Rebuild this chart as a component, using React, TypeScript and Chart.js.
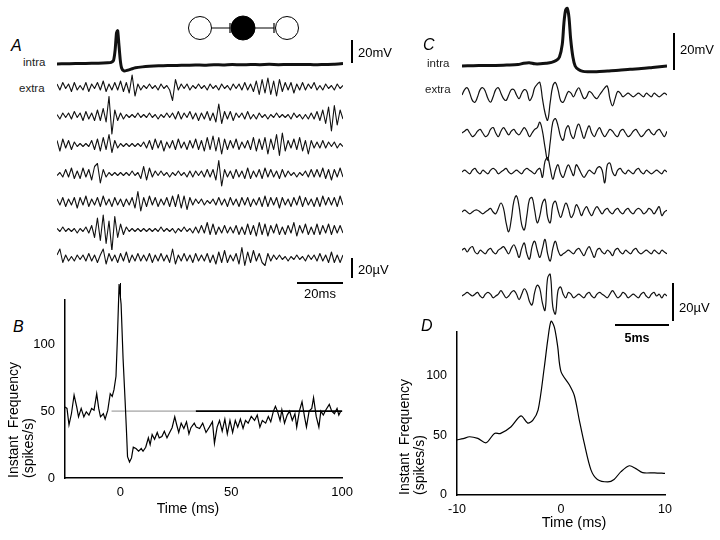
import React, { useEffect, useRef } from "react";
import { Chart, registerables } from "chart.js";
Chart.register(...registerables);

const FONT = '"Liberation Sans", Arial, Helvetica, sans-serif';

// ---------------- Panel A : intracellular (ms, mV) ----------------
const A_INTRA_T = [0, 4, 8, 12, 16, 20, 22, 23.5, 24.5, 25.2, 25.8, 26.3, 26.8, 27.4, 28, 29, 30.5, 32, 34, 37, 40, 44, 48, 52, 56, 60, 64, 68, 72, 76, 80, 84, 88, 92, 96, 100, 104, 108, 112, 116, 120, 124];
const A_INTRA_V = [0, 0.3, 0.5, 0.4, 0.6, 0.8, 1.0, 1.5, 3, 12, 27, 29, 18, 4, -3.5, -6, -5.5, -4.5, -3.3, -2.5, -2, -1.6, -1.4, -1.2, -1.1, -0.9, -1, -0.6, -0.8, -0.5, -0.7, -0.4, -0.6, -0.3, -0.6, -0.4, -0.5, -0.4, -0.7, -0.4, -0.2, 0.4];

// ---------------- Panel A : extracellular sweeps (µV) ----------------
const A_EXTRA_1 = [2,-2,3,-1,2,-3,3,-2,1,-2, 3,-3,2,-1,3,-2,4,-3,2,-2, 3,-2,4,-3,3,-4,8,-6,2,-2, 1,-1,2,-1,1,-2,2,-1,1,-2, -9,5,-2,2,-1,2,-2,1,-1,2, -1,1,-2,2,-1,1,-2,2,-1,1, -2,2,-1,2,-2,3,-2,2,-3,4, -5,5,-4,6,-5,4,-6,5,-3,3, -2,3,-4,2,-2,3,-2,2,-1,3, -2,1,-2,2,-1,1,-2,2,-1,1];
const A_EXTRA_2 = [1,-2,2,-1,2,-2,3,-1,2,-3, 3,-2,2,-3,4,-3,5,-4,13,-12, 4,-3,2,-2,1,-1,1,-1,2,-1, 1,-1,2,-1,1,-2,1,-1,2,-1, 2,-2,3,-2,2,-1,3,-2,2,-3, 2,-2,3,-3,2,-4,8,-5,3,-2, 3,-3,2,-1,2,-2,3,-2,1,-2, 2,-1,1,-2,1,-1,2,-1,1,-1, 1,-2,2,-1,1,-2,1,-2,2,-2, 3,-3,4,-5,6,-10,7,-6,4,-2];
const A_EXTRA_3 = [3,-4,4,-2,3,-3,2,-1,1,-1, 1,-1,3,-3,4,-4,5,-3,7,-5, 3,-2,1,-1,1,-1,1,-1,1,-1, 2,-2,3,-3,4,-2,3,-4,2,-2, 3,-3,4,-2,2,-3,3,-2,4,-3, 3,-4,5,-3,6,-4,5,-6,4,-3, 3,-2,4,-3,2,-2,3,-3,5,-4, 4,-3,5,-6,4,-3,7,-7,8,-4, 3,-2,4,-3,5,-4,3,-6,3,-2, 2,-2,3,-2,2,-1,2,-2,1,-1];
const A_EXTRA_4 = [-1,1,-2,3,-2,4,-3,2,-3,4, -2,3,-4,5,7,-6,3,-2,1,-1, 1,-1,1,-1,1,-1,2,-1,1,-3, 5,-4,4,-2,2,-1,2,-1,1,-2, 1,-1,2,-1,1,-2,2,-2,2,-1, 2,-2,3,-2,3,-4,9,-8,3,-2, 2,-3,3,-2,2,-3,4,-3,2,-2, 3,-3,4,-2,3,-2,2,-3,3,-2, 2,-1,1,-2,1,-1,2,-2,3,-2, 3,-2,4,-3,3,-4,3,-2,4,-2];
const A_EXTRA_5 = [2,-2,3,-3,2,-2,3,-4,3,-2, 4,-3,2,-2,3,-3,4,-2,2,-3, 3,-2,2,-3,2,-2,3,-4,7,-6, 3,-3,4,-2,3,-3,2,-2,3,-3, 4,-3,5,-4,4,-5,3,-2,2,-1, 2,-2,1,-1,2,-2,3,-2,2,-3, 3,-2,2,-3,3,-2,3,-3,2,-2, 3,-3,4,-3,3,-2,3,-4,3,-2, 2,-3,3,-2,4,-3,3,-2,2,-3, 3,-3,4,-2,3,-2,3,-3,4,-2];
const A_EXTRA_6 = [1,-1,2,-1,1,-1,1,-2,1,-1, 2,-2,3,-5,8,-7,10,-9,6,-14, 9,-5,4,-3,2,-1,1,-1,1,-1, 1,-1,1,-1,1,-1,2,-1,1,-1, 1,-2,1,-1,2,-1,1,-2,2,-2, 3,-2,5,-3,4,-3,2,-2,3,-2, 2,-2,3,-3,2,-3,4,-3,3,-4, 5,-3,4,-4,3,-2,4,-3,2,-3, 3,-2,5,-4,3,-2,4,-3,2,-3, 4,-3,3,-2,4,-3,3,-2,3,-2];
const A_EXTRA_7 = [2,6,-3,2,-2,1,-2,2,-1,2, -2,3,-2,2,-3,2,6,-4,3,-2, 2,-3,3,-2,4,-3,2,-2,3,-2, 2,-2,3,-3,2,-2,3,-2,2,-3, 6,-4,2,-2,3,-2,2,-3,3,-2, 2,-2,3,-3,2,-4,4,-3,5,-3, 2,-2,3,-4,7,-5,4,-3,5,-2, 3,-3,-5,3,-2,2,-1,2,-1,1, -2,1,-1,2,-1,1,-2,2,-1,2, -2,3,-2,2,-3,4,-3,2,-3,2];

// ---------------- Panel B : instant frequency ----------------
const B_TIME = [-25,-24.1,-23.2,-22.1,-20.9,-19.7,-18.9,-17.7,-16.5,-15.4,-14.2,-13,-11.9,-10.7,-9.8,-9,-7.7,-6.9,-5.7,-4.6,-3.7,-2.9,-2,-1.4,-0.6,0.3,1.2,2.1,2.7,3.2,4.1,5,5.8,7,8.2,9.4,10.2,11.4,12.6,13.4,14.3,15.4,16.6,17.5,18.7,19.8,21,22.2,23.3,24.5,25.4,26.3,27.4,28.6,29.8,30.9,31.8,33.3,34.2,35.7,37.1,38.6,40.1,41.5,42.4,43.6,44.7,45.9,47.1,48.2,49.4,50.6,51.8,52.9,54.1,55.3,56.4,57.6,59,60.5,61.7,62.9,64,65.5,66.7,67.8,69,69.9,70.8,72,72.8,74,75.2,76.3,77.5,78.7,79.5,80.7,81.9,83,83.9,85.1,86.3,87.1,88.3,89.5,90.4,91.5,92.7,94.2,95.3,96.5,97.7,98.5,99.4];
const B_FREQ = [53,52,39.6,48,62,53,45.7,52,45.7,49.5,47,52,50.7,63,52,45.7,48,44,50.7,63,61,66,76,103,145,130,89,58,36,16,12,15,23,22,20,22,20,23,30,25,32.5,29,34,30,31,35,30,34,37.6,45.7,39.6,34,41,37,42,33,37.6,41,38,37,41,34,38,42,26,38,43,35,44,33,43,34,43,38,44,37,43,41,46,43,47,38,43,41,46,42,50,53.5,50,43,51,41,47,50,43,48,38,50,57,46,38,50,52,60,46,38,50,47,51,55,50,48,52,47,50];
const B_REF_TIME = [-4, 34, 100];
const B_REF_FREQ = [50, 50, 50];
const B_X_TICKS = [0, 50, 100];
const B_Y_TICKS = [0, 50, 100];

// ---------------- Panel C : intracellular (ms, mV) ----------------
const C_INTRA_T = [0, 1, 2, 3, 4, 5, 5.5, 6, 6.5, 7, 7.5, 8, 8.4, 8.7, 8.95, 9.1, 9.25, 9.4, 9.55, 9.7, 9.9, 10.1, 10.4, 10.8, 11.3, 12, 13, 14, 15, 16, 17, 18.3];
const C_INTRA_V = [0, 0.2, 0.3, 0.3, 0.5, 0.8, 1.5, 1.8, 1.2, 1.2, 1.5, 2, 3, 5, 12, 24, 31, 32, 27, 15, 5, 0, -2, -3, -3.2, -3.2, -2.8, -2.4, -1.8, -1.4, -0.8, 0];

// ---------------- Panel C : extracellular sweeps (µV) ----------------
const C_EXTRA_1 = [0,3,4,1,-3,-4,-1,3,4,2, -2,-4,-1,3,4,1,-2,-3,0,3, 3,0,-2,1,3,2,-3,-1,4,6, 7,-2,-10,-14,-4,5,7,3,-3,-4, -1,2,1,-1,2,4,1,-2,-1,2, 1,-1,-2,0,2,4,5,-2,-6,-2, 2,1,-1,0,1,0,-1,0,1,0, -1,1,0,-1,1,0,-1,0,1,0];
const C_EXTRA_2 = [0,1,2,0,-2,-1,1,2,0,-2, -1,2,3,0,-2,1,3,1,-1,1, 2,0,-1,1,3,1,-2,0,2,3, 6,1,-8,-15,-5,6,8,4,-2,-4, 2,4,-1,-3,2,5,1,-3,1,4, 0,-2,1,3,0,-2,0,2,1,-1, -2,1,2,0,-2,-1,1,2,0,-2, -1,1,2,0,-1,1,2,0,-2,1];
const C_EXTRA_3 = [0,1,0,-1,1,2,0,-1,1,0, -1,1,2,1,-1,0,1,2,0,-1, 0,1,0,-1,1,2,1,0,-1,1, 2,-3,6,8,2,-4,1,4,-1,-3, 1,4,1,-2,4,2,-1,-3,-1,1, 0,-1,2,3,1,-6,4,5,0,-2, 1,2,0,-1,1,0,-1,1,2,0, -1,1,0,-1,0,1,0,-1,1,0];
const C_EXTRA_4 = [0,1,0,-1,0,1,1,0,-1,0, 1,2,0,-1,2,5,2,-6,-11,-4, 6,9,3,-7,-10,-2,7,8,1,-6, -2,5,7,-3,-6,4,6,1,-3,1, 5,2,-3,-1,4,2,-2,1,3,0, -2,1,3,1,-1,1,2,0,-1,1, 2,0,-1,1,2,0,-1,1,2,1, -1,0,2,1,-1,1,3,-2,0,1];
const C_EXTRA_5 = [1,2,0,2,3,0,-1,1,0,-1, 1,2,0,-1,1,2,3,1,-1,2, 4,1,-3,2,5,-1,-4,3,6,1, -3,2,7,-1,-5,2,6,1,-2,-1, 0,1,0,-1,1,2,0,-2,1,3, 0,-3,1,2,0,-1,1,0,-2,1, 2,0,-1,1,0,-1,1,2,0,-1, 0,1,0,-1,1,0,-1,1,0,-1];
const C_EXTRA_6 = [0,1,2,1,0,1,2,0,-1,1, 2,1,-1,0,1,3,1,-1,0,2, 3,1,-2,1,4,2,-3,-5,2,6, 4,-4,-8,10,12,-6,-10,3,5,1, -1,2,1,-1,0,1,0,-1,1,2, 0,-1,1,2,1,0,-1,1,3,1, -1,0,2,1,-1,0,1,0,-1,1, 2,0,-1,1,2,0,1,-1,1,0];

// ---------------- Panel D : instant frequency ----------------
const D_TIME = [-10,-9.4,-8.8,-8.0,-7.2,-6.4,-5.8,-4.8,-3.85,-3.2,-2.7,-2.2,-1.6,-1.28,-0.96,-0.64,-0.32,0,0.8,1.28,1.76,2.24,2.88,3.5,4.5,5.1,5.77,6.57,7.2,7.85,9,10];
const D_FREQ = [46,47,48.6,47.2,43.6,51.4,51.4,57,66,60,62.5,71,107,129,145,140,124,103,92,83,62.5,43,21,13,11,13,19.5,24.4,22,18.6,18.5,18];
const D_X_TICKS = [-10, 0, 10];
const D_Y_TICKS = [0, 50, 100];

const Y_TITLE = ["Instant  Frequency", "(spikes/s)"];

// ---------------- layout (positions only) ----------------
const A_ROWS_Y = [87, 116, 145, 174, 202, 230, 258];
const C_ROWS_Y = [95, 133, 172, 212, 252, 296];
const A_EXTRAS = [A_EXTRA_1, A_EXTRA_2, A_EXTRA_3, A_EXTRA_4, A_EXTRA_5, A_EXTRA_6, A_EXTRA_7];
const C_EXTRAS = [C_EXTRA_1, C_EXTRA_2, C_EXTRA_3, C_EXTRA_4, C_EXTRA_5, C_EXTRA_6];

type TraceProps = {
  left: number; top: number; width: number; height: number;
  baseline: number; pxPerUnit: number;
  xs?: number[]; ys: number[];
  lineWidth: number; tension: number;
};

function Trace(p: TraceProps) {
  const ref = useRef<HTMLCanvasElement>(null);
  useEffect(() => {
    const yMax = p.baseline / p.pxPerUnit;
    const yMin = -(p.height - p.baseline) / p.pxPerUnit;
    const pts = p.ys.map((v, i) => ({ x: p.xs ? p.xs[i] : i, y: v }));
    const xMin = p.xs ? p.xs[0] : 0;
    const xMax = p.xs ? p.xs[p.xs.length - 1] : p.ys.length - 1;
    const chart = new Chart(ref.current as HTMLCanvasElement, {
      type: "line",
      data: {
        datasets: [{
          data: pts, borderColor: "#111", borderWidth: p.lineWidth, pointRadius: 0,
          tension: p.tension, clip: false as any, fill: false, borderJoinStyle: "round",
        }],
      },
      options: {
        animation: false, responsive: false, events: [],
        layout: { padding: 0 },
        plugins: { legend: { display: false }, tooltip: { enabled: false } },
        scales: {
          x: { type: "linear", display: false, min: xMin, max: xMax },
          y: { type: "linear", display: false, min: yMin, max: yMax },
        },
      },
    });
    return () => chart.destroy();
  }, []);
  return (
    <canvas ref={ref} width={p.width} height={p.height}
      style={{ position: "absolute", left: p.left, top: p.top, width: p.width, height: p.height }} />
  );
}

type FreqProps = {
  left: number; top: number; width: number; height: number;
  xs: number[]; ys: number[]; refXs?: number[]; refYs?: number[];
  xMin: number; xMax: number; yMax: number; xTicks: number[]; yTicks: number[];
  yAxisWidth: number; xAxisHeight: number; padTop: number; padRight: number;
  titlePad: number; fontSize: number; tension: number;
};

function FreqChart(p: FreqProps) {
  const ref = useRef<HTMLCanvasElement>(null);
  useEffect(() => {
    const datasets: any[] = [{
      data: p.xs.map((x, i) => ({ x, y: p.ys[i] })),
      borderColor: "#000", borderWidth: 1.2, pointRadius: 0, tension: p.tension,
      clip: false, fill: false,
    }];
    if (p.refXs && p.refYs) {
      datasets.push({
        data: p.refXs.map((x, i) => ({ x, y: (p.refYs as number[])[i] })),
        pointRadius: 0, borderWidth: 1.3, borderColor: "#000", clip: false,
        segment: {
          borderColor: (c: any) => (c.p0DataIndex === 0 ? "#8c8c8c" : "#000"),
          borderWidth: (c: any) => (c.p0DataIndex === 0 ? 1 : 1.6),
        },
      });
    }
    const tickFont = { family: FONT, size: p.fontSize };
    const chart = new Chart(ref.current as HTMLCanvasElement, {
      type: "line",
      data: { datasets },
      options: {
        animation: false, responsive: false, events: [],
        layout: { padding: { top: p.padTop, right: p.padRight, left: 0, bottom: 0 } },
        plugins: { legend: { display: false }, tooltip: { enabled: false } },
        scales: {
          x: {
            type: "linear", min: p.xMin, max: p.xMax,
            grid: { display: false, drawTicks: false },
            border: { display: true, color: "#000", width: 1.5 },
            ticks: { color: "#000", padding: 7, font: tickFont, autoSkip: false, maxRotation: 0 },
            afterBuildTicks: (s: any) => { s.ticks = p.xTicks.map((v) => ({ value: v })); },
            afterFit: (s: any) => { s.height = p.xAxisHeight; },
          },
          y: {
            type: "linear", min: 0, max: p.yMax,
            grid: { display: false, drawTicks: false },
            border: { display: true, color: "#000", width: 1.5 },
            ticks: { color: "#000", padding: 10, font: tickFont, autoSkip: false },
            afterBuildTicks: (s: any) => { s.ticks = p.yTicks.map((v) => ({ value: v })); },
            afterFit: (s: any) => { s.width = p.yAxisWidth; },
            title: {
              display: true, text: Y_TITLE, align: "start", color: "#000",
              font: { family: FONT, size: 14, lineHeight: 1.1 },
              padding: { top: p.titlePad, bottom: 0 },
            },
          },
        },
      },
    });
    return () => chart.destroy();
  }, []);
  return (
    <canvas ref={ref} width={p.width} height={p.height}
      style={{ position: "absolute", left: p.left, top: p.top, width: p.width, height: p.height }} />
  );
}

function Label(props: { x: number; y: number; text: string; size?: number; italic?: boolean; center?: boolean; bold?: boolean; color?: string }) {
  return (
    <div style={{
      position: "absolute", left: props.x, top: props.y,
      transform: props.center ? "translate(-50%, -50%)" : "translate(0, -50%)",
      fontFamily: FONT, fontSize: props.size ?? 13, lineHeight: 1,
      fontStyle: props.italic ? "italic" : "normal",
      fontWeight: props.bold ? 700 : 400, whiteSpace: "pre",
      color: props.color ?? "#000",
    }}>{props.text}</div>
  );
}

function Bar(props: { x: number; y: number; w: number; h: number }) {
  return <div style={{ position: "absolute", left: props.x, top: props.y, width: props.w, height: props.h, background: "#000" }} />;
}

export default function App() {
  return (
    <div style={{ position: "fixed", left: 0, top: 0, width: 720, height: 540, background: "#fff", overflow: "hidden" }}>
      {/* circuit diagram */}
      <svg style={{ position: "absolute", left: 0, top: 0 }} width={720} height={60}>
        <circle cx={200} cy={28} r={11.5} fill="#fff" stroke="#000" strokeWidth={1} />
        <circle cx={243} cy={28} r={12} fill="#000" stroke="#000" strokeWidth={1} />
        <circle cx={287} cy={28} r={11.5} fill="#fff" stroke="#000" strokeWidth={1} />
        <line x1={211.5} y1={28} x2={230} y2={28} stroke="#000" strokeWidth={1} />
        <line x1={230} y1={23} x2={230} y2={33} stroke="#000" strokeWidth={1.2} />
        <line x1={255} y1={28} x2={274} y2={28} stroke="#000" strokeWidth={1} />
        <line x1={274} y1={23} x2={274} y2={33} stroke="#000" strokeWidth={1.2} />
      </svg>

      {/* Panel A */}
      <Label x={11} y={46} text="A" size={16} italic />
      <Label x={23} y={63} text="intra" size={11.5} color="#222" />
      <Label x={19} y={89} text="extra" size={11.5} color="#222" />
      <Trace left={57} top={20} width={286} height={60} baseline={44} pxPerUnit={1.15}
        xs={A_INTRA_T} ys={A_INTRA_V} lineWidth={3} tension={0.2} />
      {A_EXTRAS.map((ys, i) => (
        <Trace key={"a" + i} left={57} top={A_ROWS_Y[i] - 20} width={286} height={40}
          baseline={20} pxPerUnit={1.5} ys={ys} lineWidth={1.1} tension={0} />
      ))}
      <Bar x={351} y={40} w={1.5} h={23} />
      <Label x={358} y={52} text="20mV" />
      <Bar x={351} y={258} w={1.5} h={20} />
      <Label x={358} y={269} text="20µV" />
      <Bar x={297} y={282} w={46} h={1.5} />
      <Label x={320} y={293} text="20ms" center />
      <Bar x={120} y={283} w={1} h={14} />

      {/* Panel B */}
      <Label x={13} y={327} text="B" size={16} italic />
      <FreqChart left={0} top={270} width={360} height={270}
        xs={B_TIME} ys={B_FREQ} refXs={B_REF_TIME} refYs={B_REF_FREQ}
        xMin={-25} xMax={100} yMax={133} xTicks={B_X_TICKS} yTicks={B_Y_TICKS}
        yAxisWidth={65} xAxisHeight={62} padTop={30} padRight={10} titlePad={6.3}
        fontSize={13} tension={0} />
      <Label x={188} y={508} text="Time (ms)" size={14} center />

      {/* Panel C */}
      <Label x={423} y={45} text="C" size={16} italic />
      <Label x={427} y={64} text="intra" size={11.5} color="#222" />
      <Label x={425} y={90} text="extra" size={11.5} color="#222" />
      <Trace left={462} top={0} width={205} height={90} baseline={66} pxPerUnit={1.8}
        xs={C_INTRA_T} ys={C_INTRA_V} lineWidth={3} tension={0.3} />
      {C_EXTRAS.map((ys, i) => (
        <Trace key={"c" + i} left={462} top={C_ROWS_Y[i] - 30} width={205} height={60}
          baseline={30} pxPerUnit={1.8} ys={ys} lineWidth={1.2} tension={0.4} />
      ))}
      <Bar x={673} y={33} w={1.5} h={37} />
      <Label x={680} y={49} text="20mV" />
      <Bar x={672} y={283} w={1.5} h={38} />
      <Label x={679} y={307} text="20µV" />
      <Bar x={615} y={324} w={54} h={1.5} />
      <Label x={637} y={338} text="5ms" size={12.5} center bold />

      {/* Panel D */}
      <Label x={421} y={326} text="D" size={16} italic />
      <FreqChart left={380} top={300} width={340} height={240}
        xs={D_TIME} ys={D_FREQ}
        xMin={-10} xMax={10} yMax={136} xTicks={D_X_TICKS} yTicks={D_Y_TICKS}
        yAxisWidth={77} xAxisHeight={45} padTop={32} padRight={55} titlePad={17.3}
        fontSize={12.5} tension={0.3} />
      <Label x={574} y={522} text="Time (ms)" size={14.5} center />
    </div>
  );
}
